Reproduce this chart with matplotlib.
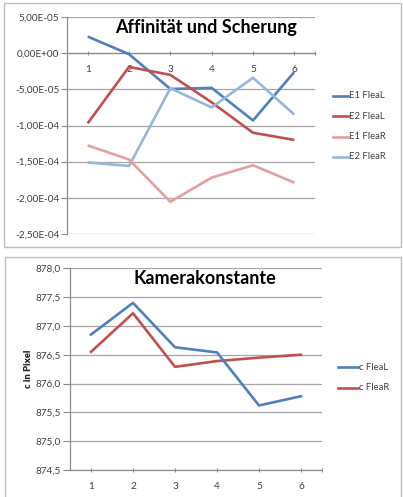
import matplotlib
matplotlib.use("Agg")
import matplotlib.pyplot as plt
from matplotlib.lines import Line2D
from matplotlib.patches import Rectangle
from matplotlib.ticker import FuncFormatter

plt.rcParams['font.family'] = ['Lato', 'DejaVu Sans']

# --- data -------------------------------------------------------------
categories = [1, 2, 3, 4, 5, 6]

affine_names = ["E1 FleaL", "E2 FleaL", "E1 FleaR", "E2 FleaR"]
e1_flea_l = [2.3e-05, -1.4e-06, -4.95e-05, -4.8e-05, -9.3e-05, -2.6e-05]
e2_flea_l = [-9.7e-05, -1.9e-05, -3.0e-05, -6.8e-05, -1.10e-04, -1.20e-04]
e1_flea_r = [-1.275e-04, -1.47e-04, -2.055e-04, -1.72e-04, -1.55e-04, -1.79e-04]
e2_flea_r = [-1.51e-04, -1.56e-04, -4.86e-05, -7.5e-05, -3.4e-05, -8.5e-05]
affine_ticks = [5e-05, 0.0, -5e-05, -1e-04, -1.5e-04, -2e-04, -2.5e-04]

camera_names = ["c FleaL", "c FleaR"]
c_flea_l = [876.85, 877.40, 876.63, 876.54, 875.62, 875.78]
c_flea_r = [876.55, 877.22, 876.29, 876.39, 876.45, 876.50]
camera_ticks = [874.5, 875.0, 875.5, 876.0, 876.5, 877.0, 877.5, 878.0]

affine_colors = ["#4F81BD", "#C0504D", "#E3A09E", "#97B6DC"]
camera_colors = ["#4F81BD", "#C0504D"]

GRID = "#A6A6A6"
AXIS = "#8C8C8C"
TXT = "#404040"

W, H = 403, 497
fig = plt.figure(figsize=(W / 100, H / 100), dpi=100)


def fx(px):
    return px / W


def fy(py):
    return 1 - py / H


# chart frames
fig.add_artist(Rectangle((fx(3.5), fy(247)), fx(397), 244 / H, transform=fig.transFigure,
                         fill=False, ec="#BFBFBF", lw=1.0))
fig.add_artist(Rectangle((fx(4.5), fy(520)), fx(396), 263 / H, transform=fig.transFigure,
                         fill=False, ec="#BFBFBF", lw=1.0, clip_on=False))


def sci_comma(v, pos):
    s = "%.2E" % v
    if abs(v) < 1e-20:
        s = "0.00E+00"
    return s.replace(".", ",")


def dec_comma(v, pos):
    return ("%.1f" % v).replace(".", ",")


def style_axes(ax):
    for side in ("top", "right"):
        ax.spines[side].set_visible(False)
    ax.spines["left"].set_color(AXIS)
    ax.spines["left"].set_linewidth(0.9)
    ax.spines["bottom"].set_color(AXIS)
    ax.spines["bottom"].set_linewidth(0.9)
    ax.set_xlim(0.5, 6.5)
    ax.set_xticks(categories + [6.5])
    ax.set_xticklabels([str(c) for c in categories] + [""])
    ax.tick_params(axis="y", length=4, width=0.8, color=AXIS, pad=1.5,
                   labelsize=7.2, labelcolor=TXT)
    ax.tick_params(axis="x", length=3, width=0.8, color=AXIS, direction="inout",
                   labelsize=7.2, labelcolor=TXT, pad=7)
    ax.grid(axis="y", color=GRID, lw=0.9)
    ax.set_axisbelow(True)
    ax.set_facecolor("none")


# --- Affinität und Scherung -----------------------------------------------
ax1 = fig.add_axes([fx(67), fy(234), fx(315 - 67), (234 - 17) / H])
style_axes(ax1)
ax1.set_ylim(-2.5e-04, 5e-05)
ax1.set_yticks(affine_ticks)
ax1.yaxis.set_major_formatter(FuncFormatter(sci_comma))
ax1.spines["bottom"].set_position(("data", 0.0))
affine_series = [e1_flea_l, e2_flea_l, e1_flea_r, e2_flea_r]
order = [2, 3, 1, 0]
for i in order:
    ax1.plot(categories, affine_series[i], color=affine_colors[i], lw=1.9,
             solid_joinstyle="round", solid_capstyle="butt", zorder=3 + (4 - order.index(i)))
fig.text(fx(206), fy(27), "Affinität und Scherung", ha="center", va="center",
         fontsize=13, fontweight="bold", color="black")

for k, (name, col) in enumerate(zip(affine_names, affine_colors)):
    yy = fy(96 + k * 20.3)
    fig.add_artist(Line2D([fx(333), fx(348)], [yy, yy], transform=fig.transFigure,
                          color=col, lw=1.9))
    fig.text(fx(349), yy, name, ha="left", va="center", fontsize=6.8, color=TXT)

# --- Kamerakonstante ------------------------------------------------------
ax2 = fig.add_axes([fx(70), fy(470), fx(322 - 70), (470 - 268.3) / H])
style_axes(ax2)
ax2.set_ylim(874.5, 878.0)
ax2.set_yticks(camera_ticks)
ax2.yaxis.set_major_formatter(FuncFormatter(dec_comma))
ax2.tick_params(axis="y", length=5)
for vals, col in zip([c_flea_r, c_flea_l], [camera_colors[1], camera_colors[0]]):
    ax2.plot(categories, vals, color=col, lw=1.9, solid_joinstyle="round", zorder=3)
ax2.set_ylabel("c in Pixel", fontsize=6.8, fontweight="heavy", color="#262626", labelpad=2)
fig.text(fx(205), fy(279), "Kamerakonstante", ha="center", va="center",
         fontsize=13, fontweight="bold", color="black")

for k, (name, col) in enumerate(zip(camera_names, camera_colors)):
    yy = fy(367 + k * 21)
    fig.add_artist(Line2D([fx(338), fx(358)], [yy, yy], transform=fig.transFigure,
                          color=col, lw=1.9))
    fig.text(fx(359), yy, name, ha="left", va="center", fontsize=6.8, color=TXT)

fig.savefig("out.png", dpi=100)
